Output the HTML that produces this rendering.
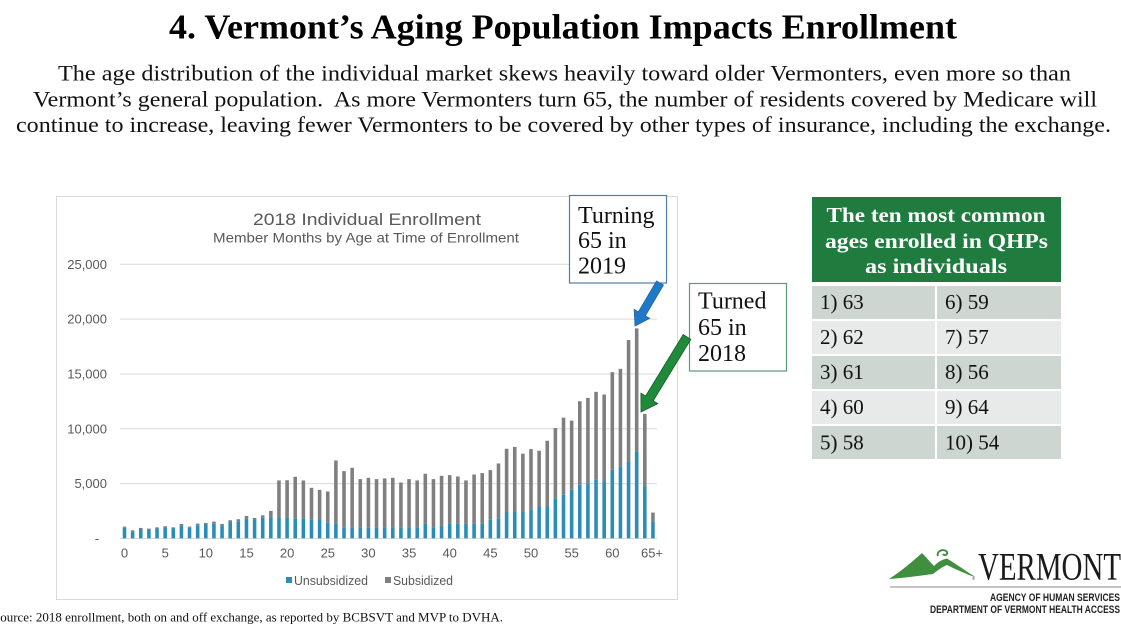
<!DOCTYPE html>
<html>
<head>
<meta charset="utf-8">
<style>
  html, body { margin: 0; padding: 0; background: #ffffff; }
  body { width: 1121px; height: 636px; overflow: hidden; }
  svg { display: block; }
</style>
</head>
<body>
<svg width="1121" height="636" viewBox="0 0 1121 636" xmlns="http://www.w3.org/2000/svg">
  <rect x="0" y="0" width="1121" height="636" fill="#ffffff"/>

  <!-- Title -->
  <text x="169" y="38.5" font-family="'Liberation Serif', serif" font-weight="bold" font-size="35" fill="#000" textLength="788" lengthAdjust="spacingAndGlyphs">4. Vermont’s Aging Population Impacts Enrollment</text>

  <!-- Paragraph -->
  <g font-family="'Liberation Serif', serif" font-size="22" fill="#111">
    <text x="58" y="80.5" textLength="1013" lengthAdjust="spacingAndGlyphs">The age distribution of the individual market skews heavily toward older Vermonters, even more so than</text>
    <text x="33" y="106.5" textLength="1064" lengthAdjust="spacingAndGlyphs">Vermont’s general population.&#160; As more Vermonters turn 65, the number of residents covered by Medicare will</text>
    <text x="16" y="132" textLength="1095" lengthAdjust="spacingAndGlyphs">continue to increase, leaving fewer Vermonters to be covered by other types of insurance, including the exchange.</text>
  </g>

  <!-- Chart box -->
  <rect x="56.5" y="196.5" width="621" height="403" fill="#ffffff" stroke="#d9d9d9" stroke-width="1"/>

  <!-- Chart title -->
  <text x="253" y="225" font-family="'Liberation Sans', sans-serif" font-size="17" fill="#595959" textLength="228" lengthAdjust="spacingAndGlyphs">2018 Individual Enrollment</text>
  <text x="213" y="242.5" font-family="'Liberation Sans', sans-serif" font-size="14" fill="#595959" textLength="306" lengthAdjust="spacingAndGlyphs">Member Months by Age at Time of Enrollment</text>

  <!-- Gridlines -->
  <g stroke="#d9d9d9" stroke-width="1">
    <line x1="120" y1="264.3" x2="657" y2="264.3"/>
    <line x1="120" y1="319.1" x2="657" y2="319.1"/>
    <line x1="120" y1="374" x2="657" y2="374"/>
    <line x1="120" y1="428.8" x2="657" y2="428.8"/>
    <line x1="120" y1="483.6" x2="657" y2="483.6"/>
    <line x1="120" y1="538.5" x2="657" y2="538.5"/>
  </g>

  <!-- Y labels -->
  <g font-family="'Liberation Sans', sans-serif" font-size="13" fill="#595959" text-anchor="end">
    <text x="107" y="268.8">25,000</text>
    <text x="107" y="323.6">20,000</text>
    <text x="107" y="378.5">15,000</text>
    <text x="107" y="433.3">10,000</text>
    <text x="107" y="488.1">5,000</text>
  </g>
  <text x="97" y="543" font-family="'Liberation Sans', sans-serif" font-size="13" fill="#595959" text-anchor="middle">-</text>

  <!-- X labels -->
  <g font-family="'Liberation Sans', sans-serif" font-size="13" fill="#595959" text-anchor="middle">
    <text x="124.5" y="557.5">0</text>
    <text x="165.2" y="557.5">5</text>
    <text x="205.8" y="557.5">10</text>
    <text x="246.5" y="557.5">15</text>
    <text x="287.1" y="557.5">20</text>
    <text x="327.8" y="557.5">25</text>
    <text x="368.4" y="557.5">30</text>
    <text x="409.1" y="557.5">35</text>
    <text x="449.7" y="557.5">40</text>
    <text x="490.4" y="557.5">45</text>
    <text x="531" y="557.5">50</text>
    <text x="571.7" y="557.5">55</text>
    <text x="612.3" y="557.5">60</text>
    <text x="652" y="557.5">65+</text>
  </g>

  <!-- Bars -->
  <g transform="translate(124.5,538.3) scale(8.13,-0.01096)">
    <g fill="#2b8db5">
      <rect x="-0.22" y="0" width="0.44" height="950"/>
      <rect x="0.78" y="0" width="0.44" height="650"/>
      <rect x="1.78" y="0" width="0.44" height="850"/>
      <rect x="2.78" y="0" width="0.44" height="800"/>
      <rect x="3.78" y="0" width="0.44" height="900"/>
      <rect x="4.78" y="0" width="0.44" height="990"/>
      <rect x="5.78" y="0" width="0.44" height="900"/>
      <rect x="6.78" y="0" width="0.44" height="1180"/>
      <rect x="7.78" y="0" width="0.44" height="960"/>
      <rect x="8.78" y="0" width="0.44" height="1200"/>
      <rect x="9.78" y="0" width="0.44" height="1260"/>
      <rect x="10.78" y="0" width="0.44" height="1370"/>
      <rect x="11.78" y="0" width="0.44" height="1180"/>
      <rect x="12.78" y="0" width="0.44" height="1480"/>
      <rect x="13.78" y="0" width="0.44" height="1560"/>
      <rect x="14.78" y="0" width="0.44" height="1830"/>
      <rect x="15.78" y="0" width="0.44" height="1670"/>
      <rect x="16.78" y="0" width="0.44" height="1880"/>
      <rect x="17.78" y="0" width="0.44" height="1900"/>
      <rect x="18.78" y="0" width="0.44" height="1890"/>
      <rect x="19.78" y="0" width="0.44" height="1890"/>
      <rect x="20.78" y="0" width="0.44" height="1830"/>
      <rect x="21.78" y="0" width="0.44" height="1830"/>
      <rect x="22.78" y="0" width="0.44" height="1680"/>
      <rect x="23.78" y="0" width="0.44" height="1720"/>
      <rect x="24.78" y="0" width="0.44" height="1430"/>
      <rect x="25.78" y="0" width="0.44" height="1370"/>
      <rect x="26.78" y="0" width="0.44" height="1000"/>
      <rect x="27.78" y="0" width="0.44" height="1000"/>
      <rect x="28.78" y="0" width="0.44" height="1000"/>
      <rect x="29.78" y="0" width="0.44" height="950"/>
      <rect x="30.78" y="0" width="0.44" height="1000"/>
      <rect x="31.78" y="0" width="0.44" height="1000"/>
      <rect x="32.78" y="0" width="0.44" height="1000"/>
      <rect x="33.78" y="0" width="0.44" height="1000"/>
      <rect x="34.78" y="0" width="0.44" height="1000"/>
      <rect x="35.78" y="0" width="0.44" height="1000"/>
      <rect x="36.78" y="0" width="0.44" height="1310"/>
      <rect x="37.78" y="0" width="0.44" height="1000"/>
      <rect x="38.78" y="0" width="0.44" height="1130"/>
      <rect x="39.78" y="0" width="0.44" height="1370"/>
      <rect x="40.78" y="0" width="0.44" height="1370"/>
      <rect x="41.78" y="0" width="0.44" height="1310"/>
      <rect x="42.78" y="0" width="0.44" height="1370"/>
      <rect x="43.78" y="0" width="0.44" height="1370"/>
      <rect x="44.78" y="0" width="0.44" height="1680"/>
      <rect x="45.78" y="0" width="0.44" height="1830"/>
      <rect x="46.78" y="0" width="0.44" height="2440"/>
      <rect x="47.78" y="0" width="0.44" height="2440"/>
      <rect x="48.78" y="0" width="0.44" height="2440"/>
      <rect x="49.78" y="0" width="0.44" height="2590"/>
      <rect x="50.78" y="0" width="0.44" height="2900"/>
      <rect x="51.78" y="0" width="0.44" height="2900"/>
      <rect x="52.78" y="0" width="0.44" height="3660"/>
      <rect x="53.78" y="0" width="0.44" height="3965"/>
      <rect x="54.78" y="0" width="0.44" height="4420"/>
      <rect x="55.78" y="0" width="0.44" height="4880"/>
      <rect x="56.78" y="0" width="0.44" height="5030"/>
      <rect x="57.78" y="0" width="0.44" height="5340"/>
      <rect x="58.78" y="0" width="0.44" height="5185"/>
      <rect x="59.78" y="0" width="0.44" height="6250"/>
      <rect x="60.78" y="0" width="0.44" height="6560"/>
      <rect x="61.78" y="0" width="0.44" height="7015"/>
      <rect x="62.78" y="0" width="0.44" height="7930"/>
      <rect x="63.78" y="0" width="0.44" height="4730"/>
      <rect x="64.78" y="0" width="0.44" height="1525"/>
    </g>
    <g fill="#7f7f7f">
      <rect x="-0.22" y="950" width="0.44" height="117"/>
      <rect x="0.78" y="650" width="0.44" height="80"/>
      <rect x="1.78" y="850" width="0.44" height="95"/>
      <rect x="2.78" y="800" width="0.44" height="85"/>
      <rect x="3.78" y="900" width="0.44" height="100"/>
      <rect x="4.78" y="990" width="0.44" height="110"/>
      <rect x="5.78" y="900" width="0.44" height="100"/>
      <rect x="6.78" y="1180" width="0.44" height="130"/>
      <rect x="7.78" y="960" width="0.44" height="107"/>
      <rect x="8.78" y="1200" width="0.44" height="140"/>
      <rect x="9.78" y="1260" width="0.44" height="140"/>
      <rect x="10.78" y="1370" width="0.44" height="155"/>
      <rect x="11.78" y="1180" width="0.44" height="130"/>
      <rect x="12.78" y="1480" width="0.44" height="170"/>
      <rect x="13.78" y="1560" width="0.44" height="180"/>
      <rect x="14.78" y="1830" width="0.44" height="210"/>
      <rect x="15.78" y="1670" width="0.44" height="190"/>
      <rect x="16.78" y="1880" width="0.44" height="220"/>
      <rect x="17.78" y="1900" width="0.44" height="600"/>
      <rect x="18.78" y="1890" width="0.44" height="3390"/>
      <rect x="19.78" y="1890" width="0.44" height="3410"/>
      <rect x="20.78" y="1830" width="0.44" height="3782"/>
      <rect x="21.78" y="1830" width="0.44" height="3447"/>
      <rect x="22.78" y="1680" width="0.44" height="2925"/>
      <rect x="23.78" y="1720" width="0.44" height="2700"/>
      <rect x="24.78" y="1430" width="0.44" height="2840"/>
      <rect x="25.78" y="1370" width="0.44" height="5730"/>
      <rect x="26.78" y="1000" width="0.44" height="5130"/>
      <rect x="27.78" y="1000" width="0.44" height="5435"/>
      <rect x="28.78" y="1000" width="0.44" height="4400"/>
      <rect x="29.78" y="950" width="0.44" height="4570"/>
      <rect x="30.78" y="1000" width="0.44" height="4400"/>
      <rect x="31.78" y="1000" width="0.44" height="4460"/>
      <rect x="32.78" y="1000" width="0.44" height="4520"/>
      <rect x="33.78" y="1000" width="0.44" height="4090"/>
      <rect x="34.78" y="1000" width="0.44" height="4400"/>
      <rect x="35.78" y="1000" width="0.44" height="4280"/>
      <rect x="36.78" y="1310" width="0.44" height="4580"/>
      <rect x="37.78" y="1000" width="0.44" height="4400"/>
      <rect x="38.78" y="1130" width="0.44" height="4570"/>
      <rect x="39.78" y="1370" width="0.44" height="4395"/>
      <rect x="40.78" y="1370" width="0.44" height="4270"/>
      <rect x="41.78" y="1310" width="0.44" height="3970"/>
      <rect x="42.78" y="1370" width="0.44" height="4455"/>
      <rect x="43.78" y="1370" width="0.44" height="4580"/>
      <rect x="44.78" y="1680" width="0.44" height="4542"/>
      <rect x="45.78" y="1830" width="0.44" height="5000"/>
      <rect x="46.78" y="2440" width="0.44" height="5730"/>
      <rect x="47.78" y="2440" width="0.44" height="5890"/>
      <rect x="48.78" y="2440" width="0.44" height="5280"/>
      <rect x="49.78" y="2590" width="0.44" height="5550"/>
      <rect x="50.78" y="2900" width="0.44" height="5090"/>
      <rect x="51.78" y="2900" width="0.44" height="6000"/>
      <rect x="52.78" y="3660" width="0.44" height="6405"/>
      <rect x="53.78" y="3965" width="0.44" height="7045"/>
      <rect x="54.78" y="4420" width="0.44" height="6316"/>
      <rect x="55.78" y="4880" width="0.44" height="7625"/>
      <rect x="56.78" y="5030" width="0.44" height="7780"/>
      <rect x="57.78" y="5340" width="0.44" height="8020"/>
      <rect x="58.78" y="5185" width="0.44" height="7930"/>
      <rect x="59.78" y="6250" width="0.44" height="8910"/>
      <rect x="60.78" y="6560" width="0.44" height="8900"/>
      <rect x="61.78" y="7015" width="0.44" height="11075"/>
      <rect x="62.78" y="7930" width="0.44" height="11220"/>
      <rect x="63.78" y="4730" width="0.44" height="6620"/>
      <rect x="64.78" y="1525" width="0.44" height="825"/>
    </g>
  </g>

  <!-- Legend -->
  <rect x="286" y="577" width="6" height="6" fill="#2b8db5"/>
  <text x="294" y="585" font-family="'Liberation Sans', sans-serif" font-size="13" fill="#595959" textLength="74" lengthAdjust="spacingAndGlyphs">Unsubsidized</text>
  <rect x="385" y="577" width="6" height="6" fill="#7f7f7f"/>
  <text x="393" y="585" font-family="'Liberation Sans', sans-serif" font-size="13" fill="#595959" textLength="60" lengthAdjust="spacingAndGlyphs">Subsidized</text>

  <!-- Source -->
  <text x="-7" y="621.5" font-family="'Liberation Serif', serif" font-size="13" fill="#111" textLength="510" lengthAdjust="spacingAndGlyphs">Source: 2018 enrollment, both on and off exchange, as reported by BCBSVT and MVP to DVHA.</text>

  <!-- Turning 65 in 2019 box -->
  <rect x="569.5" y="195.5" width="97" height="87.5" fill="#ffffff" stroke="#4a7fae" stroke-width="1.2"/>
  <g font-family="'Liberation Serif', serif" font-size="24" fill="#111">
    <text x="578" y="223">Turning</text>
    <text x="578" y="248">65 in</text>
    <text x="578" y="273.5">2019</text>
  </g>

  <!-- Turned 65 in 2018 box -->
  <rect x="689.5" y="283.5" width="97" height="87.5" fill="#ffffff" stroke="#5a9a7a" stroke-width="1.2"/>
  <g font-family="'Liberation Serif', serif" font-size="24" fill="#111">
    <text x="698" y="308.5">Turned</text>
    <text x="698" y="335">65 in</text>
    <text x="698" y="361">2018</text>
  </g>

  <!-- Blue arrow -->
  <polygon points="663.5,285 645.4,315.8 649.7,318.3 635,326 634.1,309.3 638.4,311.8 656.5,281" fill="#1f78c8" stroke="#2a62a0" stroke-width="0.8" stroke-linejoin="miter"/>
  <!-- Green arrow -->
  <polygon points="690.8,339.4 653.2,400.8 657.9,403.6 641,412 640.9,393.2 645.6,396 683.2,334.6" fill="#1f8a3a" stroke="#175a28" stroke-width="0.8"/>

  <!-- Table -->
  <rect x="812" y="197" width="249" height="85" fill="#1f7b3e"/>
  <g font-family="'Liberation Serif', serif" font-weight="bold" font-size="21" fill="#ffffff">
    <text x="826.5" y="222" textLength="219" lengthAdjust="spacingAndGlyphs">The ten most common</text>
    <text x="825" y="248" textLength="223" lengthAdjust="spacingAndGlyphs">ages enrolled in QHPs</text>
    <text x="865" y="273" textLength="142" lengthAdjust="spacingAndGlyphs">as individuals</text>
  </g>
  <g>
    <rect x="812" y="286" width="123" height="33" fill="#cdd6d0"/>
    <rect x="937" y="286" width="124" height="33" fill="#cdd6d0"/>
    <rect x="812" y="321" width="123" height="33" fill="#e7eae8"/>
    <rect x="937" y="321" width="124" height="33" fill="#e7eae8"/>
    <rect x="812" y="356" width="123" height="33" fill="#cdd6d0"/>
    <rect x="937" y="356" width="124" height="33" fill="#cdd6d0"/>
    <rect x="812" y="391" width="123" height="33" fill="#e7eae8"/>
    <rect x="937" y="391" width="124" height="33" fill="#e7eae8"/>
    <rect x="812" y="426" width="123" height="33" fill="#cdd6d0"/>
    <rect x="937" y="426" width="124" height="33" fill="#cdd6d0"/>
  </g>
  <g font-family="'Liberation Serif', serif" font-size="21" fill="#111">
    <text x="820" y="309">1) 63</text>
    <text x="945" y="309">6) 59</text>
    <text x="820" y="344">2) 62</text>
    <text x="945" y="344">7) 57</text>
    <text x="820" y="379">3) 61</text>
    <text x="945" y="379">8) 56</text>
    <text x="820" y="414">4) 60</text>
    <text x="945" y="414">9) 64</text>
    <text x="820" y="449.5">5) 58</text>
    <text x="945" y="449.5">10) 54</text>
  </g>

  <!-- Logo -->
  <path d="M 889 579 C 900 572, 912 562, 922 553 C 926 557, 930 562, 934 566 C 938 562, 942 559.5, 947 558.5 C 956 564, 966 571, 976 577.5 C 966 574, 956 569.5, 947 565 C 941 567.5, 937 571, 933 574 C 918 576, 903 578, 889 579 Z" fill="#3f8f3f"/>
  <path d="M 938 556 C 936 551, 944 548, 947 552 C 948 555, 944 556, 943 554" fill="none" stroke="#3f8f3f" stroke-width="2"/>
  <text x="978" y="579.5" font-family="'Liberation Serif', serif" font-size="39" fill="#1a1a1a" textLength="143" lengthAdjust="spacingAndGlyphs">VERMONT</text>
  <text x="972" y="580" font-family="'Liberation Sans', sans-serif" font-size="4" fill="#333">®</text>
  <line x1="890" y1="587" x2="1121" y2="587" stroke="#8a8a8a" stroke-width="1"/>
  <text x="990" y="601" font-family="'Liberation Sans Narrow', 'Liberation Sans', sans-serif" font-weight="bold" font-size="11" fill="#222" textLength="130" lengthAdjust="spacingAndGlyphs">AGENCY OF HUMAN SERVICES</text>
  <text x="930" y="613" font-family="'Liberation Sans Narrow', 'Liberation Sans', sans-serif" font-weight="bold" font-size="11" fill="#222" textLength="190" lengthAdjust="spacingAndGlyphs">DEPARTMENT OF VERMONT HEALTH ACCESS</text>
</svg>
</body>
</html>
